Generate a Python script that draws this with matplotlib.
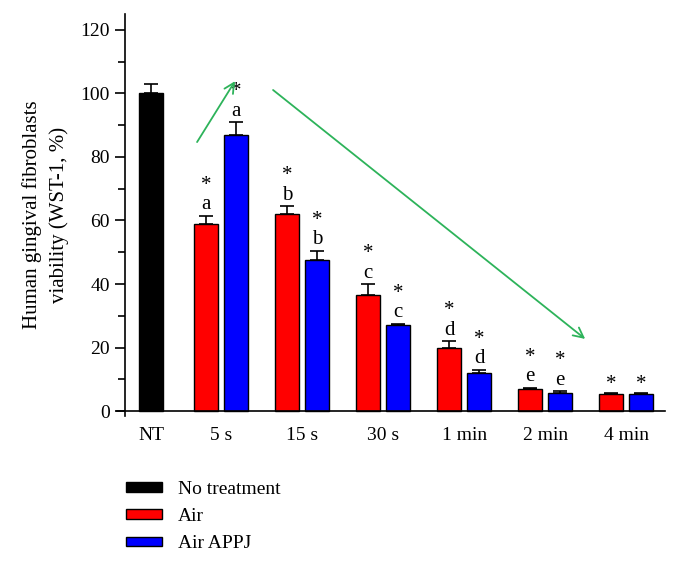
import matplotlib
matplotlib.use("Agg")
import matplotlib.pyplot as plt
from matplotlib.patches import Patch
from matplotlib.ticker import MultipleLocator

plt.rcParams["font.family"] = ["Liberation Serif", "DejaVu Serif"]

# data
groups = ["5 s", "15 s", "30 s", "1 min", "2 min", "4 min"]
nt_value = 100.0
nt_err = 3.0
air = [59.0, 62.0, 36.5, 20.0, 7.0, 5.5]
air_err = [2.5, 2.5, 3.5, 2.0, 0.4, 0.3]
appj = [87.0, 47.5, 27.0, 12.0, 5.8, 5.5]
appj_err = [4.0, 3.0, 0.5, 1.0, 0.5, 0.2]
air_letters = ["a", "b", "c", "d", "e", ""]
appj_letters = ["a", "b", "c", "d", "e", ""]

fig = plt.figure(figsize=(6.81, 5.64), dpi=100)
ax = fig.add_axes([0.1836, 0.2628, 0.793, 0.7122])

w = 0.29
off = 0.185
nt_x = 0.138
xs = list(range(1, len(groups) + 1))
air_x = [x - off for x in xs]
appj_x = [x + off for x in xs]

ekw = dict(elinewidth=1.2, capthick=1.2, ecolor="black")
ax.bar(nt_x, nt_value, w, color="black", edgecolor="black", lw=1,
       yerr=[[0], [nt_err]], capsize=5, error_kw=ekw, zorder=2)
ax.bar(air_x, air, w, color="#ff0000", edgecolor="black", lw=1,
       yerr=[[0] * len(air), air_err], capsize=5, error_kw=ekw, zorder=2)
ax.bar(appj_x, appj, w, color="#0000ff", edgecolor="black", lw=1,
       yerr=[[0] * len(appj), appj_err], capsize=5, error_kw=ekw, zorder=2)

# significance marks
for xx, v, e, let in list(zip(air_x, air, air_err, air_letters)) + \
        list(zip(appj_x, appj, appj_err, appj_letters)):
    top = v + e
    if let:
        ax.annotate(let, (xx, top), xytext=(0, 1), textcoords="offset points",
                    ha="center", va="bottom", fontsize=15)
        ax.annotate("*", (xx, top), xytext=(0, 15), textcoords="offset points",
                    ha="center", va="bottom", fontsize=15)
    else:
        ax.annotate("*", (xx, top), xytext=(0, -1), textcoords="offset points",
                    ha="center", va="bottom", fontsize=15)

# trend arrows
green = "#2db35a"
ax.annotate("", xy=(1.173, 103.9), xytext=(0.704, 84.7),
            arrowprops=dict(arrowstyle="->", color=green, lw=1.3,
                            mutation_scale=18, shrinkA=0, shrinkB=0))
ax.annotate("", xy=(5.494, 22.7), xytext=(1.642, 101.1),
            arrowprops=dict(arrowstyle="->", color=green, lw=1.3,
                            mutation_scale=18, shrinkA=0, shrinkB=0))

ax.set_xlim(-0.185, 6.48)
ax.set_ylim(-1.5, 125)
ax.set_xticks([nt_x] + xs)
ax.set_xticklabels(["NT"] + groups)
ax.tick_params(axis="x", length=0, pad=8, labelsize=14)
ax.yaxis.set_minor_locator(MultipleLocator(10))
ax.set_yticks(range(0, 121, 20))
ax.tick_params(axis="y", which="major", direction="out", length=7, width=1.2,
               labelsize=14, pad=4)
ax.tick_params(axis="y", which="minor", direction="out", length=5, width=1.2)
ax.spines["top"].set_visible(False)
ax.spines["right"].set_visible(False)
ax.spines["bottom"].set_visible(False)
ax.spines["left"].set_linewidth(1.2)
ax.axhline(0, xmin=-0.015, xmax=1.0, color="black", lw=1.2, clip_on=False, zorder=3)

ax.set_ylabel("Human gingival fibroblasts\nviability (WST-1, %)", fontsize=15,
              linespacing=1.5, labelpad=8)

handles = [Patch(facecolor="black", edgecolor="black"),
           Patch(facecolor="#ff0000", edgecolor="black"),
           Patch(facecolor="#0000ff", edgecolor="black")]
fig.legend(handles, ["No treatment", "Air", "Air APPJ"], loc="upper left",
           bbox_to_anchor=(126 / 681, 1 - 481 / 564), frameon=False, fontsize=14,
           handlelength=1.85, handleheight=0.36, handletextpad=0.8,
           labelspacing=0.52, borderpad=0, borderaxespad=0)

fig.savefig("out.png", dpi=100)
